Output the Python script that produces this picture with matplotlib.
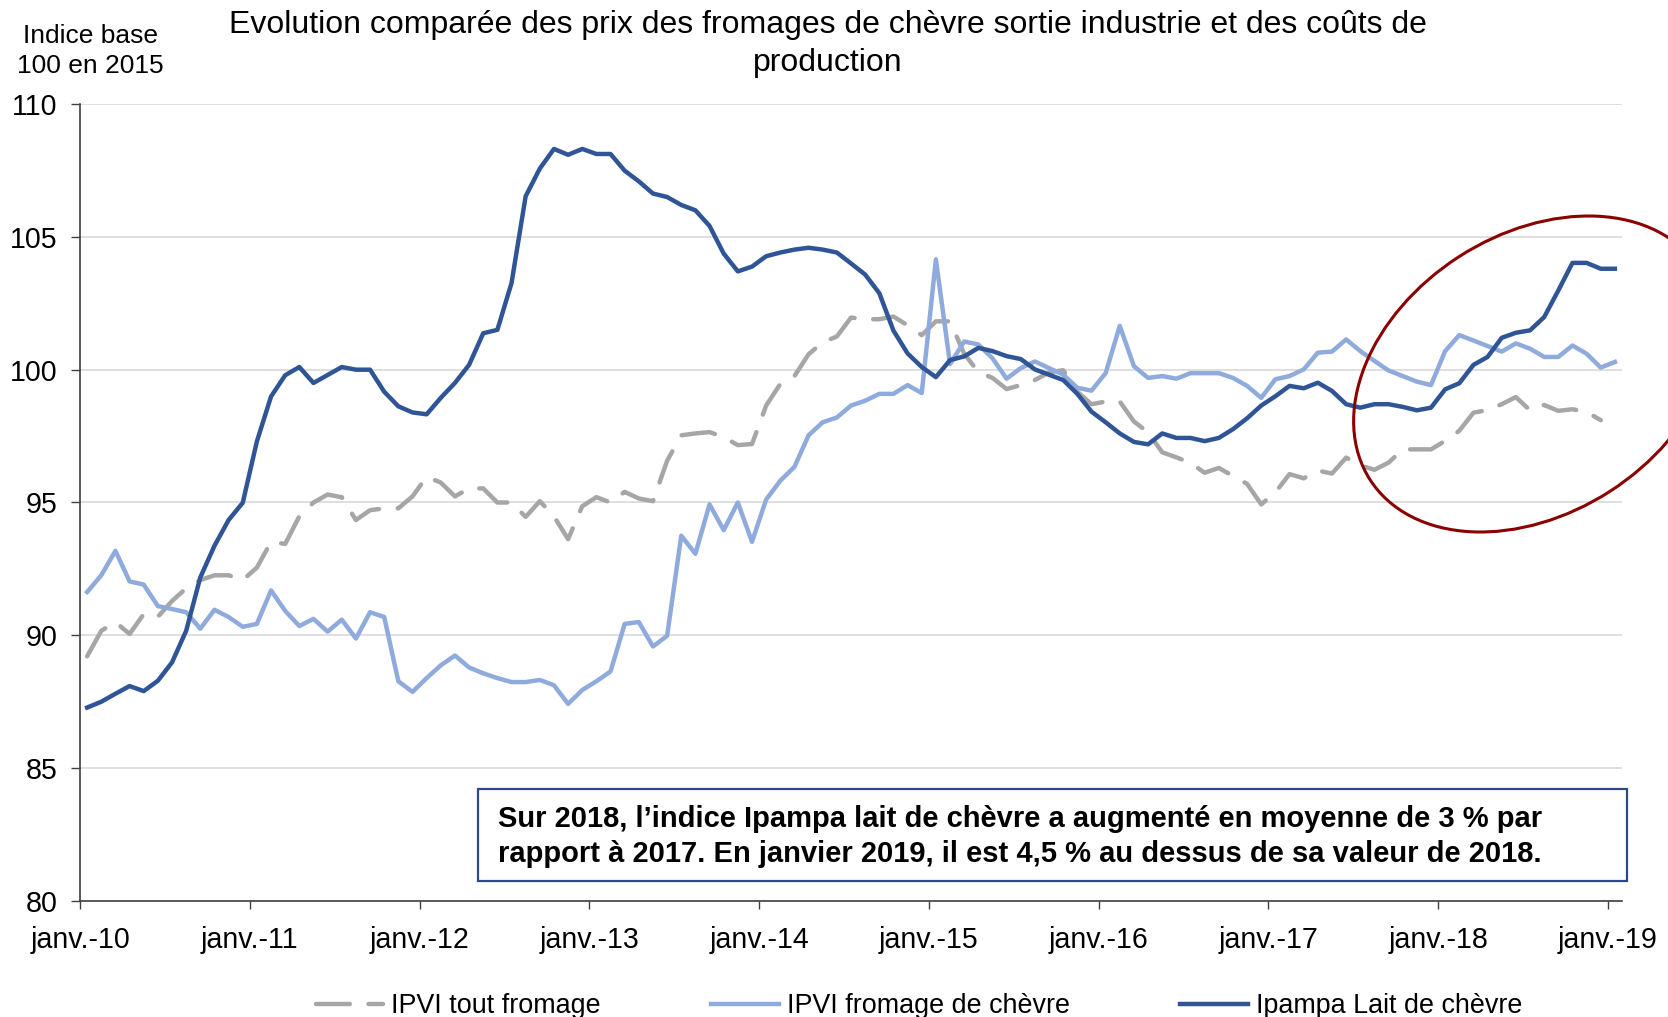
import numpy as np
import matplotlib
matplotlib.use("Agg")
import matplotlib.pyplot as plt
from matplotlib.patches import Ellipse, Rectangle

plt.rcParams['font.family'] = ['Liberation Sans', 'DejaVu Sans']

# monthly series, janv. 2010 -> janv. 2019 (index base 100 en 2015)
ipvi_tout = [89.21, 90.17, 90.5, 90.05, 90.8, 90.7, 91.29, 91.77, 92.08, 92.26, 92.26, 92.08,
             92.55, 93.52, 93.44, 94.48, 95.0, 95.3, 95.2, 94.34, 94.71, 94.78, 94.78, 95.23,
             95.97, 95.75, 95.23, 95.53, 95.53, 95.0, 95.0, 94.46, 95.05, 94.48, 93.62, 94.86,
             95.2, 95.0, 95.4, 95.15, 95.05, 96.57, 97.53, 97.6, 97.65, 97.46, 97.16, 97.2,
             98.65, 99.46, 99.76, 100.58, 101.03, 101.25, 101.96, 101.9, 101.9, 102.0, 101.67, 101.3,
             101.82, 101.82, 100.6, 99.91, 99.69, 99.27, 99.42, 99.61, 99.9, 99.98, 99.17, 98.7,
             98.8, 98.8, 98.05, 97.64, 96.89, 96.7, 96.49, 96.12, 96.3, 96.0, 95.7, 94.93,
             95.38, 96.07, 95.91, 96.2, 96.09, 96.69, 96.4, 96.23, 96.5, 97.0, 97.0, 97.0,
             97.32, 97.7, 98.38, 98.48, 98.7, 98.97, 98.47, 98.67, 98.45, 98.51, 98.41, 98.1,
             np.nan]
ipvi_chevre = [91.63, 92.26, 93.18, 92.03, 91.91, 91.1, 90.99, 90.87, 90.25, 90.96, 90.69, 90.32,
               90.43, 91.69, 90.92, 90.35, 90.62, 90.14, 90.59, 89.88, 90.87, 90.69, 88.27, 87.87,
               88.39, 88.87, 89.24, 88.79, 88.57, 88.39, 88.24, 88.24, 88.32, 88.12, 87.42, 87.94,
               88.27, 88.64, 90.43, 90.5, 89.58, 89.98, 93.75, 93.07, 94.93, 93.96, 95.0, 93.52,
               95.11, 95.82, 96.34, 97.53, 98.02, 98.2, 98.65, 98.83, 99.09, 99.09, 99.42, 99.12,
               104.15, 100.21, 101.06, 100.95, 100.43, 99.66, 100.06, 100.31, 100.06, 99.81, 99.32, 99.21,
               99.87, 101.65, 100.13, 99.69, 99.76, 99.66, 99.87, 99.87, 99.87, 99.69, 99.39, 98.94,
               99.64, 99.76, 100.01, 100.64, 100.68, 101.14, 100.7, 100.33, 99.97, 99.76, 99.55, 99.42,
               100.7, 101.3, 101.1, 100.89, 100.68, 100.99, 100.79, 100.48, 100.48, 100.91, 100.6, 100.08,
               100.29]
ipampa = [87.28, 87.5, 87.8, 88.09, 87.9, 88.29, 88.98, 90.17, 92.18, 93.37, 94.34, 94.99,
          97.3, 98.99, 99.79, 100.1, 99.5, 99.8, 100.1, 100.0, 100.0, 99.17, 98.62, 98.39,
          98.32, 98.94, 99.5, 100.18, 101.37, 101.5, 103.26, 106.53, 107.57, 108.31, 108.09, 108.31,
          108.12, 108.12, 107.49, 107.09, 106.63, 106.5, 106.2, 106.0, 105.41, 104.37, 103.7, 103.88,
          104.27, 104.41, 104.52, 104.59, 104.52, 104.41, 104.0, 103.58, 102.88, 101.47, 100.61, 100.1,
          99.72, 100.36, 100.5, 100.82, 100.7, 100.51, 100.4, 100.01, 99.81, 99.61, 99.09, 98.42,
          98.02, 97.6, 97.28, 97.19, 97.6, 97.43, 97.43, 97.31, 97.43, 97.76, 98.17, 98.65,
          99.0, 99.39, 99.3, 99.51, 99.2, 98.7, 98.57, 98.7, 98.7, 98.6, 98.47, 98.57,
          99.26, 99.49, 100.18, 100.48, 101.2, 101.39, 101.48, 101.98, 102.98, 104.02, 104.02, 103.8,
          103.8]

year_labels = ['janv.-10', 'janv.-11', 'janv.-12', 'janv.-13', 'janv.-14',
               'janv.-15', 'janv.-16', 'janv.-17', 'janv.-18', 'janv.-19']
series_names = ['IPVI tout fromage', 'IPVI fromage de chèvre', 'Ipampa Lait de chèvre']

months = np.arange(len(ipampa))

fig = plt.figure(figsize=(16.68, 10.17), dpi=100)
ax = fig.add_axes([0.048, 0.1141, 0.9244, 0.7836])

ax.plot(months, ipvi_tout, color='#A6A6A6', lw=3.2, linestyle=(0, (7.6, 4.2)),
        dash_capstyle='round', label=series_names[0])
ax.plot(months, ipvi_chevre, color='#8FAADC', lw=3.2, solid_joinstyle='round',
        label=series_names[1])
ax.plot(months, ipampa, color='#2F5597', lw=3.2, solid_joinstyle='round',
        label=series_names[2])

ax.set_xlim(-0.5, len(ipampa) - 0.5)
ax.set_ylim(80, 110)
ax.set_yticks(np.arange(80, 111, 5))
ax.set_xticks(np.arange(len(year_labels)) * 12 - 0.5)
ax.set_xticklabels(year_labels)
ax.tick_params(axis='both', labelsize=20.6, direction='out', color='#404040', width=1)
ax.tick_params(axis='y', length=6.5, pad=10)
ax.tick_params(axis='x', length=6, pad=12)
ax.grid(axis='y', color='#D9D9D9', lw=1.2)
ax.set_axisbelow(True)
for side in ['top', 'right']:
    ax.spines[side].set_visible(False)
for side in ['left', 'bottom']:
    ax.spines[side].set_color('#404040')
    ax.spines[side].set_linewidth(1.2)

fig.text(0.4964, 0.9565, "Evolution comparée des prix des fromages de chèvre sortie industrie et des coûts de\nproduction",
         ha='center', va='center', fontsize=23, linespacing=1.35)
fig.text(0.054, 0.950, "Indice base\n100 en 2015", ha='center', va='center', fontsize=19, linespacing=1.35)

# encadré commentaire
fig.add_artist(Rectangle((0.2866, 0.1337), 0.6888, 0.0905, transform=fig.transFigure,
                         facecolor='white', edgecolor='#2E4A86', lw=1.6))
fig.text(0.2986, 0.1775, "Sur 2018, l’indice Ipampa lait de chèvre a augmenté en moyenne de 3 % par\n"
         "rapport à 2017. En janvier 2019, il est 4,5 % au dessus de sa valeur de 2018.",
         ha='left', va='center', fontsize=21, fontweight='bold', linespacing=1.35)

# ellipse rouge autour de 2018
fig.add_artist(Ellipse((15.345, 6.43), 3.91, 2.79, angle=32.8, transform=fig.dpi_scale_trans,
                       fill=False, edgecolor='#8B0000', lw=2.2))

ax.legend(loc='center', bbox_to_anchor=(0.551, 0.0106), bbox_transform=fig.transFigure,
          ncol=3, frameon=False, fontsize=19.4, handlelength=2.5, handletextpad=0.3,
          columnspacing=4.1)

fig.savefig('out.png', dpi=100)
